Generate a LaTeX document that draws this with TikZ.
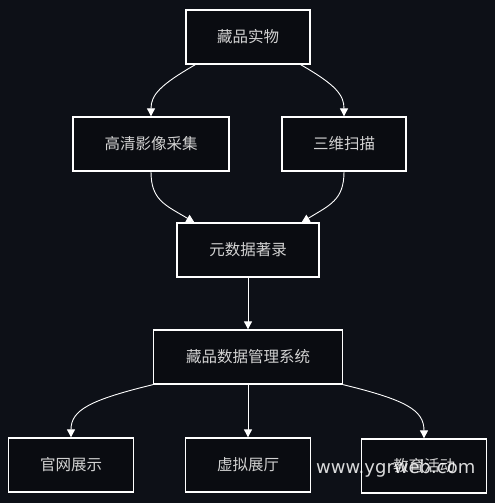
\documentclass[tikz,border=0pt]{standalone}
\usepackage{fontspec}
\newfontfamily\cjk{Noto Sans CJK SC}
\setsansfont{DejaVu Sans}
\usetikzlibrary{arrows.meta}
\definecolor{bg}{HTML}{0D1017}
\definecolor{boxfill}{HTML}{0A0C11}
\definecolor{txt}{HTML}{D2D2D2}
\tikzset{
  box/.style={draw=white, fill=boxfill, line width=1.3pt, minimum height=54pt,
    inner sep=0pt, text=txt, font=\cjk\fontsize{15.5}{18}\selectfont},
  conn/.style={draw=white, line width=0.9pt, -{Triangle[length=8pt,width=8pt]}},
}
\begin{document}
\begin{tikzpicture}[x=1pt,y=-1pt]
\fill[bg] (0,0) rectangle (495,503);
\useasboundingbox (0,0) rectangle (495,503);
\node[box, minimum width=124pt] (a) at (248,37) {藏品实物};
\node[box, minimum width=156pt] (b) at (151,144) {高清影像采集};
\node[box, minimum width=124pt] (c) at (344,144) {三维扫描};
\node[box, minimum width=142pt] (d) at (248,250) {元数据著录};
\node[box, minimum width=189pt] (e) at (248,357) {藏品数据管理系统};
\node[box, minimum width=125pt] (f) at (71,465) {官网展示};
\node[box, minimum width=125pt] (g) at (248,465) {虚拟展厅};
\node[box, minimum width=125pt] (h) at (424,466) {教育活动};
\draw[conn] ([xshift=10pt]a.south west) .. controls (160,85) and (151,95) .. (b.north);
\draw[conn] ([xshift=-10pt]a.south east) .. controls (336,85) and (344,95) .. (c.north);
\draw[conn] (b.south) .. controls (151,200) and (165,205) .. ([xshift=18pt]d.north west);
\draw[conn] (c.south) .. controls (344,200) and (330,205) .. ([xshift=-18pt]d.north east);
\draw[conn] (d.south) -- (e.north);
\draw[conn] (e.south west) .. controls (90,400) and (71,410) .. (f.north);
\draw[conn] (e.south) -- (g.north);
\draw[conn] (e.south east) .. controls (406,400) and (424,410) .. (h.north);
\node[text=white, opacity=0.85, font=\sffamily\fontsize{18}{21}\selectfont, anchor=west, inner sep=0pt] (wm) at (316,469) {www.ygrweb.com};
\end{tikzpicture}
\end{document}
